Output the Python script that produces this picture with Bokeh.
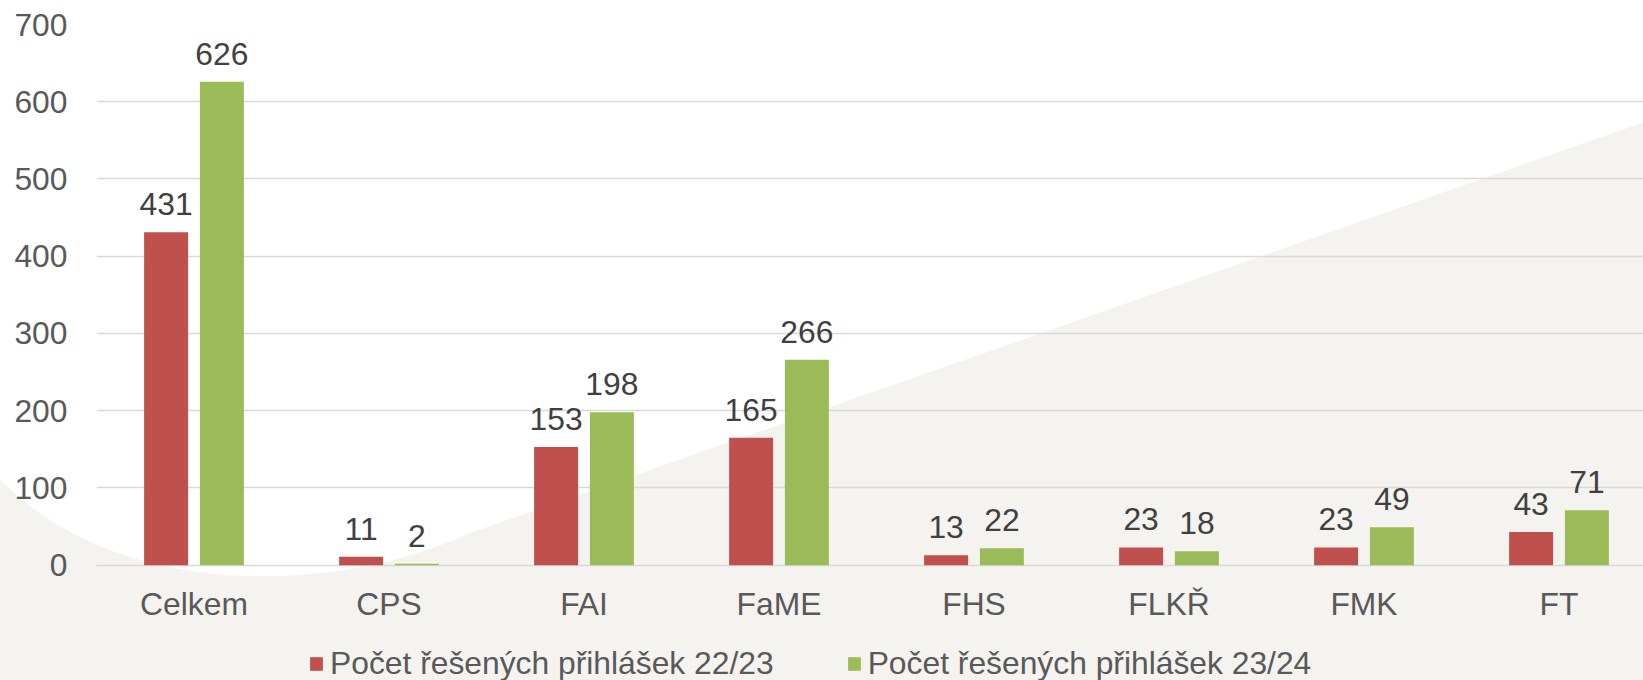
from urllib.parse import quote
from bokeh.plotting import figure
from bokeh.models import (ColumnDataSource, Range1d, FixedTicker, Legend,
                          LegendItem)
from bokeh.transform import dodge
from bokeh.core.properties import value
from bokeh.embed import file_html
from bokeh.resources import INLINE

# ---------------- data ----------------
categories = ["Celkem", "CPS", "FAI", "FaME", "FHS", "FLKŘ", "FMK", "FT"]
series_names = ["Počet řešených přihlášek 22/23", "Počet řešených přihlášek 23/24"]
values_2223 = [431, 11, 153, 165, 13, 23, 23, 43]
values_2324 = [626, 2, 198, 266, 22, 18, 49, 71]
y_ticks = [0, 100, 200, 300, 400, 500, 600, 700]

# ---------------- style ----------------
FONT = "Liberation Sans"
FS = "31.8px"
BG = "#f4f3ef"
RED = "#c0504d"
GREEN = "#9bbb59"
AXIS_TXT = "#595959"
LBL_TXT = "#404040"
GRID = "#d9d9d9"

W, H = 1643, 680
CAT_PX = 195.0          # px per category
LEFT = 96               # frame left
TOP = 24                # frame top (value 700)
PX_PER_UNIT = 540.7 / 700.0
frame_w = W - LEFT
frame_h = H - TOP
y_low = 700 - frame_h / PX_PER_UNIT   # room below 0 for labels + legend

# slide background (white swoosh over light grey), as a CSS background
bg_svg = (f"<svg xmlns='http://www.w3.org/2000/svg' width='{W}' height='{H}'>"
          f"<rect width='{W}' height='{H}' fill='{BG}'/>"
          "<path d='M-5,-5 L1650,-5 L1650,120 L470,533 C330,597 110,600 -5,474 Z' fill='white'/>"
          "</svg>")
bg_css = "url(\"data:image/svg+xml," + quote(bg_svg) + "\")"

p = figure(width=W, height=H, output_backend="svg", toolbar_location=None,
           x_range=Range1d(-0.5, -0.5 + frame_w / CAT_PX),
           y_range=Range1d(y_low, 700),
           min_border_left=LEFT, min_border_right=0, min_border_top=TOP,
           min_border_bottom=0,
           styles={"background-color": BG, "background-image": bg_css,
                   "background-repeat": "no-repeat"})
p.background_fill_alpha = 0
p.border_fill_alpha = 0
p.outline_line_color = None

src = ColumnDataSource(dict(
    x=list(range(len(categories))),
    a=values_2223, b=values_2324,
    a_lbl=[str(v) for v in values_2223],
    b_lbl=[str(v) for v in values_2324],
))

OFFS = 0.143
BW = 0.2256
r1 = p.vbar(x=dodge("x", -OFFS, range=p.x_range), top="a", width=BW, source=src,
            fill_color=RED, line_color=None)
r2 = p.vbar(x=dodge("x", OFFS, range=p.x_range), top="b", width=BW, source=src,
            fill_color=GREEN, line_color=None)

for col, lbl, d in (("a", "a_lbl", -OFFS), ("b", "b_lbl", OFFS)):
    p.text(x=dodge("x", d, range=p.x_range), y=col, text=lbl, source=src,
           text_align="center", text_baseline="alphabetic", y_offset=-28,
           text_font=value(FONT), text_font_size=FS, text_color=LBL_TXT)

# axes
p.xaxis.ticker = FixedTicker(ticks=list(range(len(categories))))
p.xaxis.major_label_overrides = {i: c for i, c in enumerate(categories)}
p.xaxis.fixed_location = 0
p.yaxis.ticker = FixedTicker(ticks=y_ticks)
for ax in (p.xaxis, p.yaxis):
    ax.axis_line_color = None
    ax.major_tick_line_color = None
    ax.minor_tick_line_color = None
    ax.major_label_text_font = FONT
    ax.major_label_text_font_size = FS
    ax.major_label_text_color = AXIS_TXT
p.xaxis.major_label_standoff = 15
p.yaxis.major_label_standoff = 23

p.xgrid.grid_line_color = None
p.ygrid.ticker = FixedTicker(ticks=y_ticks)
p.ygrid.grid_line_color = GRID
p.ygrid.grid_line_width = 1.5

legend = Legend(items=[LegendItem(label=series_names[0], renderers=[r1]),
                       LegendItem(label=series_names[1], renderers=[r2])],
                orientation="horizontal", location=(212, -2),
                glyph_width=16, glyph_height=17, label_standoff=6, spacing=72,
                padding=0, margin=0, border_line_color=None,
                background_fill_alpha=0,
                label_text_font=FONT, label_text_font_size=FS,
                label_text_color=AXIS_TXT)
p.add_layout(legend)

open("out.html", "w").write(file_html(p, INLINE))
